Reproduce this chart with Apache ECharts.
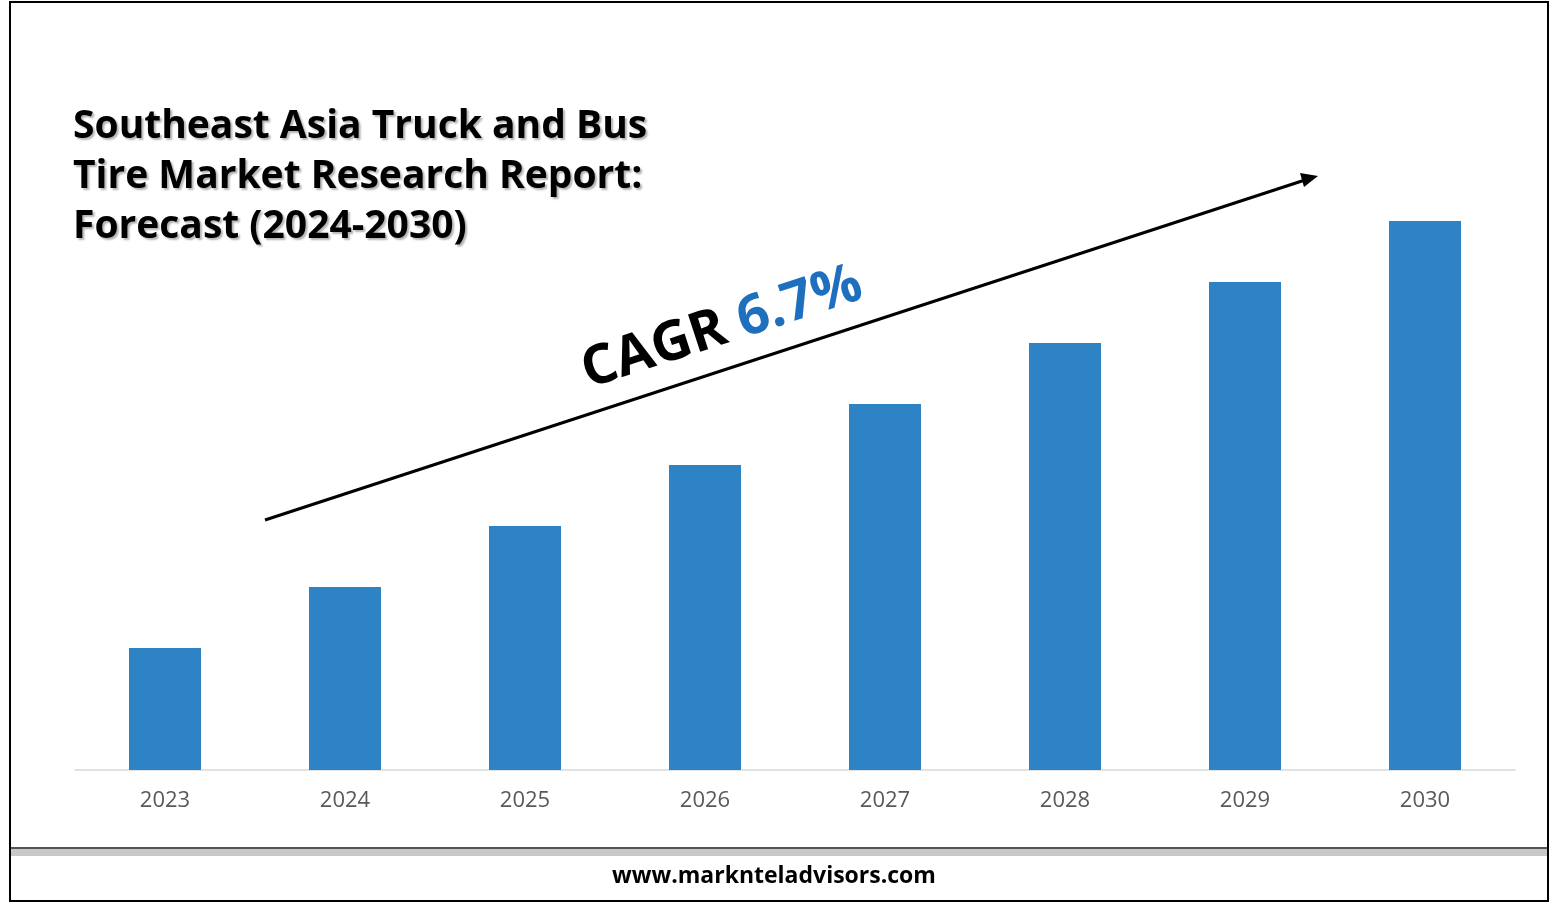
<!DOCTYPE html>
<html><head><meta charset="utf-8">
<script src="https://cdn.jsdelivr.net/npm/echarts@6/dist/echarts.min.js"></script>
<style>html,body{margin:0;padding:0;background:#fff}#c{width:1557px;height:906px}</style>
</head><body><div id="c"></div>
<script>
const categories = ['2023','2024','2025','2026','2027','2028','2029','2030'];
const values = [2, 3, 4, 5, 6, 7, 8, 9];
const titleLines = ['Southeast Asia Truck and Bus', 'Tire Market Research Report:', 'Forecast (2024-2030)'];
const cagrLabel = 'CAGR';
const cagrValue = '6.7%';
const footer = 'www.marknteladvisors.com';

const chart = echarts.init(document.getElementById('c'));
chart.setOption({
  animation: false,
  grid: {left: 75, right: 42, top: 160, bottom: 136},
  xAxis: {type: 'category', data: categories,
    axisLine: {lineStyle: {color: '#d9d9d9', width: 1.5}}, axisTick: {show: false},
    axisLabel: {color: '#595959', fontSize: 22, fontFamily: 'Open Sans', margin: 20}},
  yAxis: {type: 'value', min: 0, max: 10, show: false, splitLine: {show: false}},
  series: [{type: 'bar', data: values, barWidth: 72, itemStyle: {color: '#2e83c4'}}],
  graphic: [
    {type: 'rect', shape: {x: 10, y: 2, width: 1538, height: 899}, style: {fill: 'none', stroke: '#000', lineWidth: 2}},
    {type: 'rect', shape: {x: 11, y: 849, width: 1536, height: 7}, style: {fill: '#c8c8c8'}},
    {type: 'line', shape: {x1: 11, y1: 848, x2: 1547, y2: 848}, style: {stroke: '#555', lineWidth: 2}},
    {type: 'text', x: 774, y: 876, style: {text: footer, font: 'bold 23px "Open Sans"', fill: '#000', textAlign: 'center', textVerticalAlign: 'middle'}},
    {type: 'text', x: 73, y: 102, style: {text: titleLines.join('\n'), font: 'bold 39px "Open Sans"', lineHeight: 50, fill: '#000', textShadowColor: 'rgba(0,0,0,0.3)', textShadowOffsetX: 2, textShadowOffsetY: 2, textShadowBlur: 2}},
    {type: 'line', shape: {x1: 265, y1: 520, x2: 1305, y2: 180}, style: {stroke: '#000', lineWidth: 3}},
    {type: 'polygon', shape: {points: [[1318, 176], [1300, 173], [1304, 187]]}, style: {fill: '#000'}},
    {type: 'text', x: 722, y: 328, rotation: 18.1 * Math.PI / 180,
      style: {text: '{a|' + cagrLabel + ' }{b|' + cagrValue + '}', textAlign: 'center', textVerticalAlign: 'middle',
        rich: {a: {font: 'bold 55px "Open Sans"', fill: '#000'}, b: {font: 'bold 55px "Open Sans"', fill: '#1f6fbf'}}}}
  ]
});
</script></body></html>
